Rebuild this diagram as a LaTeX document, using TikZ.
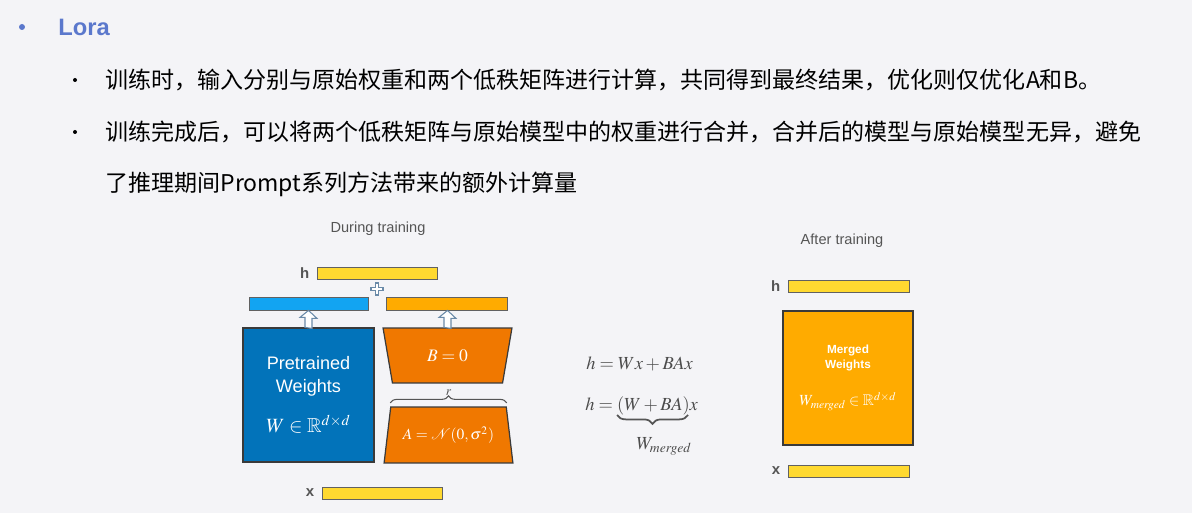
\documentclass[tikz,border=0pt]{standalone}
\usepackage{amsmath,amssymb}
\usepackage{mathptmx}
\usepackage[no-math]{fontspec}
\setmainfont{Liberation Sans}
\newfontfamily\cjk{Noto Sans CJK SC}
\usetikzlibrary{positioning,calc,shapes.geometric,decorations.pathreplacing}
\definecolor{pagebg}{HTML}{F4F4F7}
\definecolor{titleblue}{HTML}{5B78CC}
\definecolor{hbar}{HTML}{FFD930}
\definecolor{wbar}{HTML}{12A4F2}
\definecolor{abar}{HTML}{FFAB00}
\definecolor{wblue}{HTML}{0273BA}
\definecolor{lora}{HTML}{F07800}
\definecolor{edge}{HTML}{3A3A3A}
\definecolor{textgray}{HTML}{555555}
\definecolor{arrowgray}{HTML}{6A8AA8}

\begin{document}
\begin{tikzpicture}[x=0.02cm, y=-0.02cm,
    bar/.style = {draw=edge!80, line width=0.5pt, minimum width=2.4cm, minimum height=0.24cm, inner sep=0pt},
    lbl/.style = {font=\bfseries\fontsize{8.5}{10}\selectfont, text=textgray, inner sep=0pt},
    caption/.style = {font=\fontsize{8.3}{10}\selectfont, text=textgray},
    trap/.style = {trapezium, trapezium stretches=true, draw=edge, line width=0.7pt, fill=lora, text=white,
        minimum width=2.58cm, inner sep=0pt},
    hollow/.style = {draw=arrowgray, fill=white, line width=0.6pt, line join=miter},
    brc/.style = {draw=textgray, line width=0.6pt, decorate, decoration={brace, amplitude=4pt, raise=2pt}},
    eqn/.style = {anchor=base west, inner sep=0pt, text=textgray!90!black, font=\fontsize{10.5}{12}\selectfont},
    line/.style = {anchor=west, inner sep=0pt, font=\cjk\fontsize{13.1}{15}\selectfont}]
    \useasboundingbox[fill=pagebg] (0,0) rectangle (1192,513);

    \fill[titleblue] (22,27) circle (3);
    \node[anchor=west, inner sep=0pt, text=titleblue, font=\bfseries\fontsize{13.5}{16}\selectfont] (title) at (58,27) {Lora};
    \fill (75,80) circle (2);
    \fill (75,132) circle (2);
    \node[line] (l1) at (105,80) {训练时，输入分别与原始权重和两个低秩矩阵进行计算，共同得到最终结果，优化则仅优化A和B。};
    \node[line] (l2) at (105,132) {训练完成后，可以将两个低秩矩阵与原始模型中的权重进行合并，合并后的模型与原始模型无异，避免};
    \node[line] (l3) at (105,184) {了推理期间Prompt系列方法带来的额外计算量};

    \node[caption] (during) at (378,229) {During training};
    \node[bar, fill=hbar] (htop) at (377,273) {};
    \node[lbl, left=4pt of htop] (hlbl) {h};
    \node[bar, fill=wbar, minimum width=2.38cm, minimum height=0.26cm] (wout) at (308.5,303.5) {};
    \node[bar, fill=abar, minimum width=2.42cm, minimum height=0.26cm] (bout) at (446.5,303.5) {};
    \node[draw=edge, line width=0.7pt, fill=wblue, text=white, minimum width=2.62cm, minimum height=2.68cm, align=center,
        font=\fontsize{10.3}{13}\selectfont] (pre) at (308.5,395)
        {Pretrained\\Weights\\[10pt]{\fontsize{11.5}{14}\selectfont$W \in \mathbb{R}^{d\times d}$}};
    \node[trap, shape border rotate=180, minimum height=1.1cm, trapezium left angle=73.8, trapezium right angle=73.8,
        font=\fontsize{10}{11}\selectfont] (B) at (447.5,355.5) {$B=0$};
    \node[trap, minimum height=1.12cm, trapezium left angle=73, trapezium right angle=73,
        font=\fontsize{8.8}{11}\selectfont] (A) at (448.5,435) {$A=\mathcal{N}(0,\sigma^2)$};
    \draw[brc] (A.top left corner) -- node[midway, above=6pt, inner sep=0pt, text=textgray, font=\fontsize{7.5}{8}\selectfont] (rlbl) {$r$} (A.top right corner);
    \node[bar, fill=hbar] (xbot) at (382,493) {};
    \node[lbl, left=4pt of xbot] (xlbl) {x};
    \coordinate (plus) at (377,289);
    \draw[hollow] (plus) ++(-1.5,-6) -- ++(3,0) -- ++(0,4.5) -- ++(4.5,0) -- ++(0,3) -- ++(-4.5,0) -- ++(0,4.5)
        -- ++(-3,0) -- ++(0,-4.5) -- ++(-4.5,0) -- ++(0,-3) -- ++(4.5,0) -- cycle;
    \draw[hollow] ($(pre.north)+(-3.5,0)$) -- ++(0,-10) -- ++(-5,0) -- (pre.north |- wout.south) -- ++(8.5,8) -- ++(-5,0) -- ++(0,10) -- cycle;
    \draw[hollow] ($(B.bottom side)+(-3.5,0)$) -- ++(0,-10) -- ++(-5,0) -- (B.bottom side |- bout.south) -- ++(8.5,8) -- ++(-5,0) -- ++(0,10) -- cycle;

    \node[eqn] (eq1) at (586,369) {$h = Wx + BAx$};
    \node[eqn] (eq2) at (585,410) {$h = (W + BA)x$};
    \coordinate (bl) at (617,415);
    \coordinate (br) at (688,415);
    \draw[brc, line width=1pt, decoration={brace, amplitude=5pt, raise=0pt, mirror}] (bl) -- (br);
    \node[inner sep=0pt, text=textgray!90!black, font=\fontsize{10.5}{12}\selectfont] (wm) at (664,446) {$W_{\mathit{merged}}$};

    \node[caption] (after) at (842,241) {After training};
    \node[bar, fill=hbar, minimum width=2.42cm] (htop2) at (848.5,286) {};
    \node[lbl, left=4pt of htop2] (hlbl2) {h};
    \node[draw=edge, line width=0.7pt, fill=abar, text=white, minimum width=2.6cm, minimum height=2.68cm, align=center,
        font=\bfseries\fontsize{6.7}{8.5}\selectfont] (merged) at (848,378)
        {Merged\\Weights\\[11pt]{\mdseries\fontsize{8.8}{11}\selectfont$W_{\mathit{merged}} \in \mathbb{R}^{d\times d}$}};
    \node[bar, fill=hbar, minimum width=2.42cm] (xbot2) at (848.5,471) {};
    \node[lbl, left=4pt of xbot2] (xlbl2) {x};
\end{tikzpicture}
\end{document}
